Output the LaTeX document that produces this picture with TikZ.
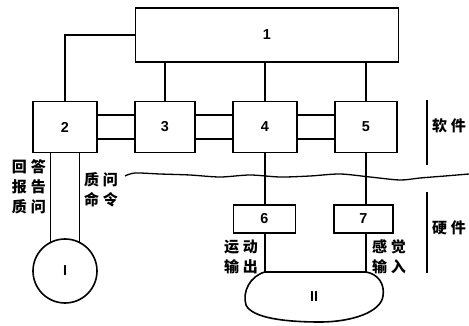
\documentclass[tikz,border=0pt]{standalone}
\usepackage{fontspec}
\newfontfamily\cjk{Noto Sans CJK SC}
\setsansfont{Liberation Sans}
\usetikzlibrary{shapes.geometric}
\newcommand{\cgap}{\hspace{4pt}}
\tikzset{
  blk/.style={draw,line width=1.6pt,font=\sffamily\bfseries\Large,inner sep=0pt},
  lbl/.style={font=\cjk\bfseries\fontsize{15}{20}\selectfont,align=center,inner sep=0pt},
}
\begin{document}
\begin{tikzpicture}[x=1pt,y=-1pt,line width=1.3pt]
\useasboundingbox (0,0) rectangle (469,326);
% program blocks
\node[blk,minimum width=263pt,minimum height=54pt] (b1) at (267,35) {1};
\node[blk,minimum width=64pt,minimum height=51pt] (b2) at (65,127) {2};
\node[blk,minimum width=60pt,minimum height=51pt] (b3) at (165,127) {3};
\node[blk,minimum width=64pt,minimum height=51pt] (b4) at (265,127) {4};
\node[blk,minimum width=62pt,minimum height=51pt] (b5) at (366,127) {5};
\node[blk,minimum width=62pt,minimum height=28pt] (b6) at (264.5,219) {6};
\node[blk,minimum width=59pt,minimum height=28pt] (b7) at (363.5,219) {7};
\foreach \a/\b in {b2/b3,b3/b4,b4/b5} {
  \draw ([yshift=12pt]\a.east) -- ([yshift=12pt]\b.west);
  \draw ([yshift=-12pt]\a.east) -- ([yshift=-12pt]\b.west);
}
\foreach \b in {b3,b4,b5} \draw (b1.south -| \b.north) -- (\b.north);
\draw (b1.west) -| (b2.north);
\draw (b4.south) -- (b4.south |- b6.north);
\draw (b5.south) -- (b5.south |- b7.north);
% outer world
\node[circle,draw,line width=1.6pt,minimum size=64pt,font=\sffamily\bfseries\Large] (n1) at (65,271) {I};
\draw (n1.116 |- b2.south) -- (n1.116);
\draw (n1.64 |- b2.south) -- (n1.64);
\node[font=\sffamily\bfseries\Large] (n2) at (314,297) {II};
\coordinate (m6) at (265,272);
\coordinate (m7) at (366,272);
\draw[line width=1.6pt] (m6) -- (m7) .. controls (378,274) and (385,284) .. (383,296)
  .. controls (381,312) and (352,322) .. (320,322)
  .. controls (285,322) and (252,318) .. (246,305)
  .. controls (242,292) and (250,276) .. (m6);
\draw (b4.south |- b6.south) -- (m6);
\draw (b5.south |- b7.south) -- (m7);
% dividing line
\draw plot[smooth] coordinates {(125,176) (135,173) (160,174) (190,175) (220,177) (250,175)
  (280,177) (310,176) (340,174) (370,177) (400,180) (420,178) (445,176) (469,174)};
\draw[line width=1.6pt] (427,100) -- (427,165);
\draw[line width=1.6pt] (427,192) -- (427,273);
\node[lbl] (sw) at (449,126) {软\cgap 件};
\node[lbl] (hw) at (449,228) {硬\cgap 件};
% signal labels
\node[lbl] (ans) at (29,187) {回\cgap 答\\报\cgap 告\\质\cgap 问};
\node[lbl] (cmd) at (101,190) {质\cgap 问\\命\cgap 令};
\node[lbl] (mot) at (241,257) {运\cgap 动\\输\cgap 出};
\node[lbl] (sen) at (389,257) {感\cgap 觉\\输\cgap 入};
\end{tikzpicture}
\end{document}
